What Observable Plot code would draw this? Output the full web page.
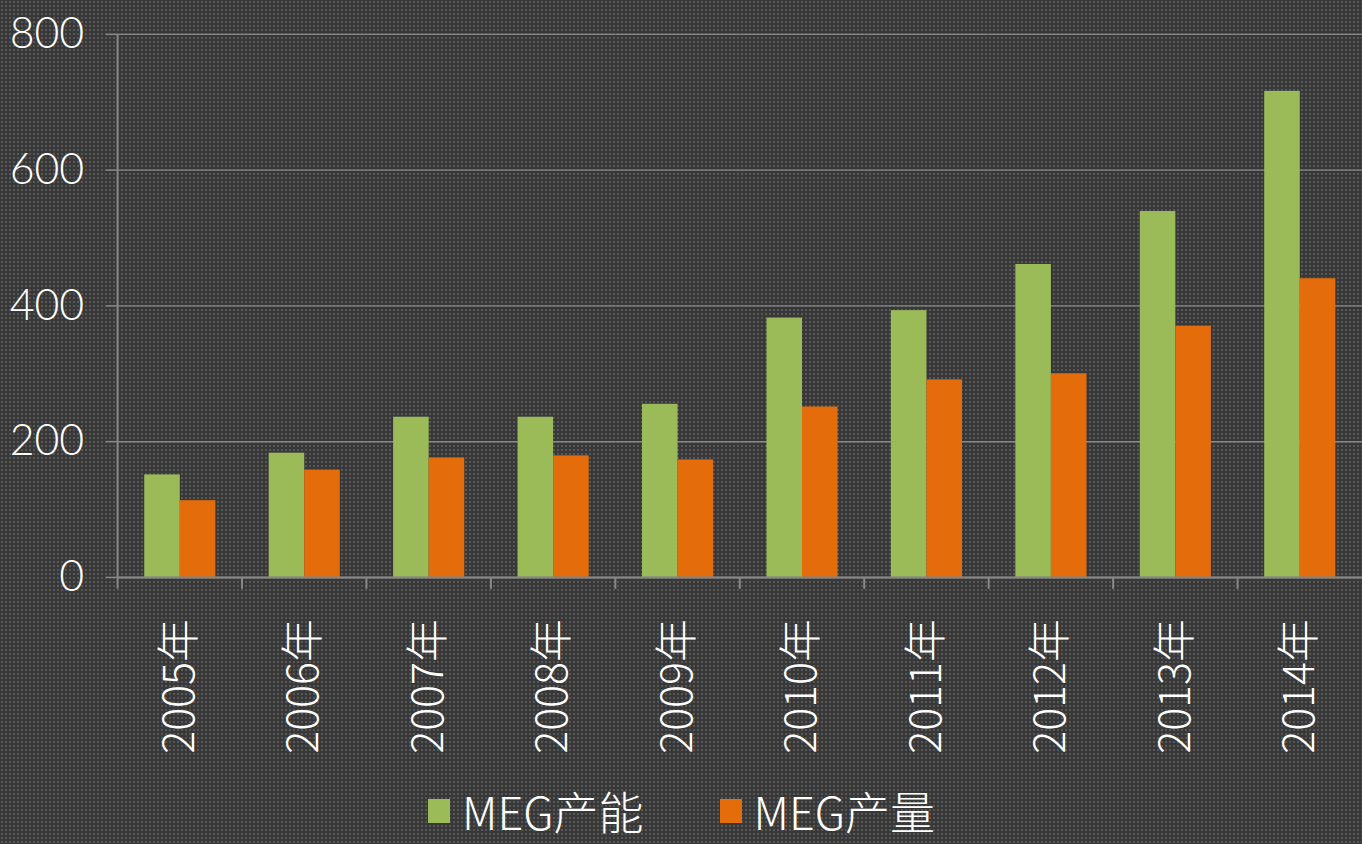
<!DOCTYPE html>
<html>
<head>
<meta charset="utf-8">
<script src="https://cdn.jsdelivr.net/npm/d3@7"></script>
<script src="https://cdn.jsdelivr.net/npm/@observablehq/plot@0.6"></script>
<style>
  html, body { margin: 0; padding: 0; width: 1362px; height: 844px; overflow: hidden; }
  body {
    background-color: #383838;
    background-image: radial-gradient(circle, rgba(255,255,255,0.16) 0.7px, transparent 1.1px);
    background-size: 4px 4px;
    font-family: "Noto Sans CJK SC", "Noto Sans", sans-serif;
    font-weight: 300;
    position: relative;
  }
  #chart svg { display: block; }
  #legend { position: absolute; left: 428px; top: 788px; display: flex; align-items: flex-start; color: #fff; font-size: 45px; line-height: 46px; }
  .item { display: flex; align-items: flex-start; margin-right: 76px; }
  .item span { display: inline-block; line-height: 46px; height: 46px; }
  .sw { width: 22px; height: 24px; margin-top: 11px; margin-right: 12px; }
</style>
</head>
<body>
<div id="chart"></div>
<div id="legend"></div>
<script>
const years = ["2005年","2006年","2007年","2008年","2009年","2010年","2011年","2012年","2013年","2014年"];
const series = ["MEG产能","MEG产量"];
const capacity = [151,183,236,236,255,382,393,461,539,716];
const output = [113,158,176,179,173,251,291,300,370,440];
const colors = ["#9BBB59","#E46C0A"];
const yTicks = [0,200,400,600,800];

const data = years.flatMap((y, i) => [
  {year: y, series: series[0], value: capacity[i]},
  {year: y, series: series[1], value: output[i]}
]);

const gridColor = "#878787";

const chart = Plot.plot({
  width: 1367,
  height: 790,
  marginLeft: 118,
  marginRight: 0,
  marginTop: 34,
  marginBottom: 211,
  style: {background: "transparent", color: "#fff", fontFamily: "'Noto Sans CJK SC', 'Noto Sans', sans-serif", fontWeight: 300},
  fx: {domain: years, padding: 0, round: false, label: null},
  x: {domain: series, paddingInner: 0, paddingOuter: 0.75, round: false, axis: null},
  y: {domain: [0, 800], label: null},
  color: {domain: series, range: colors},
  marks: [
    Plot.gridY(yTicks, {stroke: gridColor, strokeOpacity: 1, strokeWidth: 1.5}),
    Plot.barY(data, {fx: "year", x: "series", y: "value", fill: "series"}),
    Plot.ruleY([0], {stroke: gridColor, strokeWidth: 2}),
    Plot.axisY(yTicks, {tickSize: 12, tickPadding: 22, fontSize: 43, fontFamily: "Lato, 'Noto Sans', sans-serif", fill: "#fff", stroke: gridColor, strokeWidth: 1.5, label: null, tickFormat: d => String(d)}),
    Plot.axisFx({anchor: "bottom", tickRotate: -90, tickSize: 0, tickPadding: 42, fontSize: 43, fill: "#fff", label: null})
  ]
});
document.getElementById("chart").appendChild(chart);

// axis line and category boundary ticks, from the plot's own scales
const fx = chart.scale("fx");
const ys = chart.scale("y");
const svg = d3.select(chart);
const g = svg.append("g").attr("stroke", gridColor).attr("stroke-width", 2);
const x0 = fx.apply(years[0]);
g.append("line").attr("x1", x0).attr("x2", x0).attr("y1", ys.apply(800)).attr("y2", ys.apply(0) + 12);
years.slice(1).forEach(y => {
  const x = fx.apply(y);
  g.append("line").attr("x1", x).attr("x2", x).attr("y1", ys.apply(0)).attr("y2", ys.apply(0) + 12);
});

const legend = d3.select("#legend");
series.forEach((s, i) => {
  const it = legend.append("div").attr("class", "item");
  it.append("div").attr("class", "sw").style("background", colors[i]);
  it.append("span").text(s);
});
</script>
</body>
</html>
